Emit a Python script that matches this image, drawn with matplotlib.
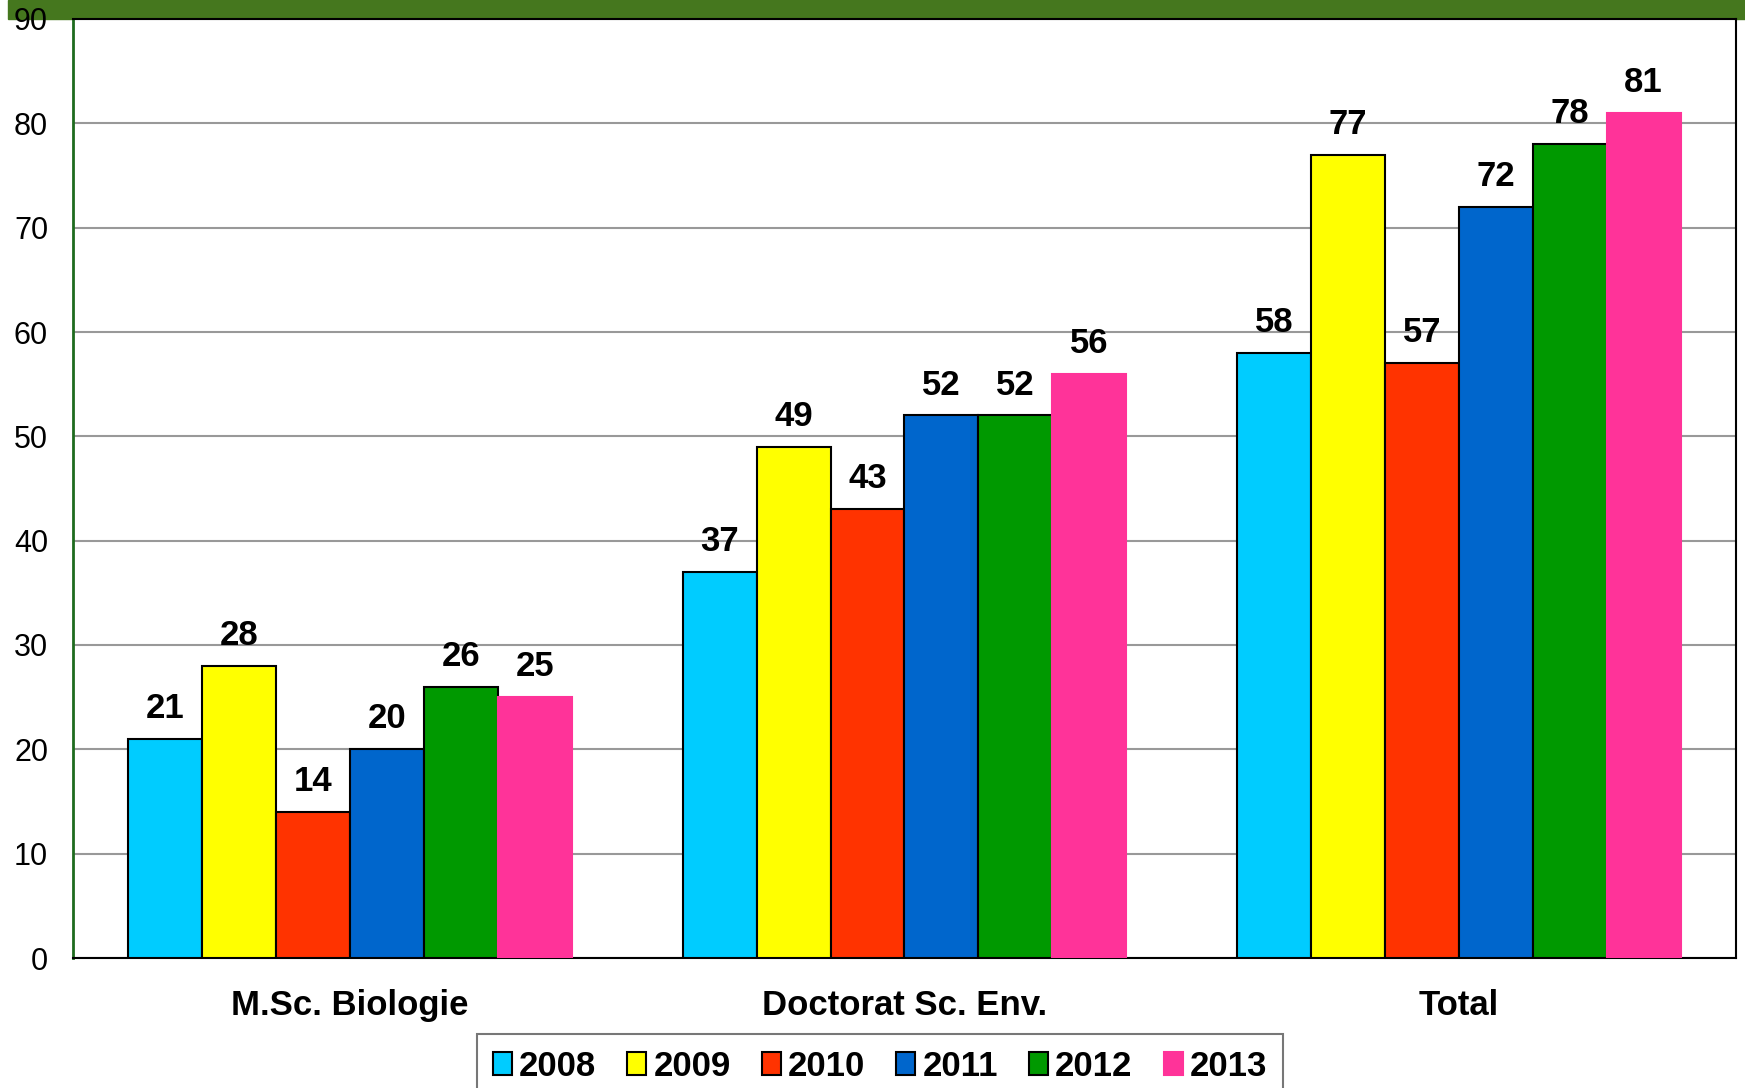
import numpy as np
import matplotlib.pyplot as plt
from matplotlib.patches import Rectangle

plt.rcParams['font.family'] = ['Liberation Sans', 'DejaVu Sans']

# Data
categories = ['M.Sc. Biologie', 'Doctorat Sc. Env.', 'Total']
years = ['2008', '2009', '2010', '2011', '2012', '2013']
values = {
    '2008': [21, 37, 58],
    '2009': [28, 49, 77],
    '2010': [14, 43, 57],
    '2011': [20, 52, 72],
    '2012': [26, 52, 78],
    '2013': [25, 56, 81],
}
colors = ['#00CCFF', '#FFFF00', '#FF3300', '#0066CC', '#009900', '#FF3399']
edges = ['black', 'black', 'black', 'black', 'black', '#FF3399']

fig = plt.figure(figsize=(17.45, 10.88), dpi=100)
# green band along the top edge
fig.patches.append(Rectangle((8 / 1745, 1 - 19 / 1088), 1, 19 / 1088,
                             transform=fig.transFigure, color='#45771E', zorder=0))
ax = fig.add_axes([73 / 1745, 1 - 958 / 1088, (1736 - 73) / 1745, (958 - 19) / 1088])
ax.set_zorder(1)

x = np.arange(len(categories))
width = 1 / 7.5
for i, year in enumerate(years):
    pos = x + (i - 2.5) * width
    bars = ax.bar(pos, values[year], width, color=colors[i], edgecolor=edges[i],
                  linewidth=1.5, label=year, zorder=3)
    for b, v in zip(bars, values[year]):
        ax.annotate(str(v), (b.get_x() + b.get_width() / 2, v), xytext=(0, 10),
                    textcoords='offset points', ha='center', va='bottom',
                    fontsize=25, fontweight='bold', zorder=4)

ax.set_xlim(-0.5, 2.5)
ax.set_ylim(0, 90)
ax.set_yticks(range(0, 91, 10))
ax.tick_params(axis='y', length=0, pad=18, labelsize=22)
ax.set_xticks(x)
ax.set_xticklabels(categories, fontsize=25, fontweight='bold')
ax.tick_params(axis='x', length=0, pad=22)
ax.grid(axis='y', color='#999999', linewidth=1.5, zorder=0)
ax.set_axisbelow(True)

ax.spines['left'].set_color('#1E6B1E')
ax.spines['left'].set_linewidth(2)
for s in ['top', 'right', 'bottom']:
    ax.spines[s].set_color('black')
    ax.spines[s].set_linewidth(1.5)

leg = fig.legend(loc='center', bbox_to_anchor=(880 / 1745, 1 - 1066 / 1088),
                 ncol=6, frameon=True, fancybox=False, edgecolor='#555555',
                 prop={'size': 25, 'weight': 'bold'}, handlelength=0.55,
                 handleheight=0.65, handletextpad=0.2, columnspacing=0.9,
                 borderpad=0.45)
leg.get_frame().set_linewidth(1.5)

plt.savefig('out.png', dpi=100)
